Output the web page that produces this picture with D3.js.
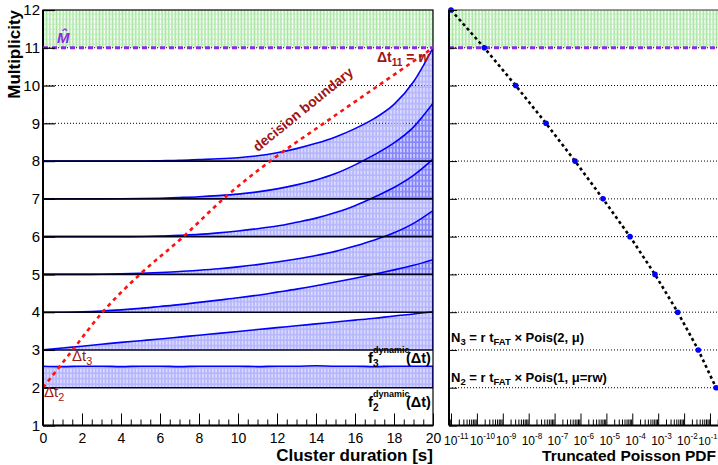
<!DOCTYPE html>
<html><head><meta charset="utf-8">
<script src="https://cdn.jsdelivr.net/npm/d3@7"></script>
<style>
html,body{margin:0;padding:0;background:#fff;}
svg text{font-family:"Liberation Sans",Arial,Helvetica,sans-serif;}
</style></head><body>
<svg id="chart" width="718" height="465"></svg>
<script>
// Cluster duration samples [s]
const durationT = [0,1,2,3,4,5,6,7,8,9,10,11,12,13,14,15,16,17,18,19,20];

// Dynamic fraction f_k(Δt), drawn as a band above multiplicity k
const f2 = [0.57,0.56,0.57,0.57,0.56,0.57,0.57,0.56,0.57,0.57,0.57,0.56,0.57,0.57,0.58,0.57,0.57,0.56,0.57,0.57,0.57];
const f3 = [0,0.05,0.1,0.15,0.2,0.245,0.29,0.34,0.39,0.44,0.49,0.54,0.59,0.64,0.69,0.74,0.79,0.84,0.9,0.95,1.01];
const f4 = [0,0,0.01,0.03,0.06,0.1,0.15,0.2,0.26,0.32,0.38,0.45,0.53,0.61,0.7,0.8,0.9,1.01,1.12,1.24,1.39];
const f5 = [0,0,0,0.005,0.015,0.03,0.05,0.075,0.11,0.15,0.2,0.26,0.33,0.41,0.5,0.61,0.75,0.91,1.1,1.35,1.69];
const f6 = [0,0,0,0,0,0.005,0.015,0.035,0.06,0.1,0.15,0.21,0.28,0.38,0.49,0.64,0.82,1.05,1.3,1.62,2.05];
const f7 = [0,0,0,0,0.002,0.008,0.018,0.035,0.055,0.085,0.125,0.185,0.265,0.37,0.5,0.67,0.9,1.17,1.48,1.9,2.53];
const f8 = [0,0,0,0,0,0,0.01,0.02,0.04,0.06,0.09,0.14,0.22,0.33,0.47,0.64,0.86,1.13,1.5,2.1,3.0];
const bandMult = [2,3,4,5,6,7,8];

// Decision boundary Δt_k for each multiplicity
const boundaryMult = [2,3,4,5,6,7,8,9,10,11];
const boundaryT = [0,1.52,3.05,4.97,7.2,9.25,11.65,14.4,17.2,20];

// Truncated Poisson PDF per multiplicity
const pdfMult = [12,11,10,9,8,7,6,5,4,3,2];
const pdfValue = [1.0e-11,1.93e-10,3.15e-9,4.66e-8,6.14e-7,7.4e-6,8.15e-5,7.5e-4,5.66e-3,3.53e-2,0.171];

// Tick values / labels
const multTicks = [1,2,3,4,5,6,7,8,9,10,11,12];
const durationTicks = [0,2,4,6,8,10,12,14,16,18,20];
const pdfDecades = [-11,-10,-9,-8,-7,-6,-5,-4,-3,-2,-1];
const mHat = 11;

const svg = d3.select("#chart");
const defs = svg.append("defs");

// hatched fills
const pb = defs.append("pattern").attr("id","hBlue").attr("patternUnits","userSpaceOnUse")
  .attr("width",3.3).attr("height",5.5);
pb.append("rect").attr("width",3.3).attr("height",5.5).attr("fill","rgba(40,40,250,0.34)");
pb.append("line").attr("x1",1.6).attr("x2",1.6).attr("y1",0).attr("y2",4)
  .attr("stroke","rgba(255,255,255,0.8)").attr("stroke-width",1);

const pg = defs.append("pattern").attr("id","hGreen").attr("patternUnits","userSpaceOnUse")
  .attr("width",3.3).attr("height",5);
pg.append("rect").attr("width",3.3).attr("height",5).attr("fill","#cdf2c9");
pg.append("line").attr("x1",0.5).attr("x2",0.5).attr("y1",0).attr("y2",5)
  .attr("stroke","#a9e3a3").attr("stroke-width",1);
pg.append("line").attr("x1",2).attr("x2",2).attr("y1",0).attr("y2",3.6)
  .attr("stroke","#ffffff").attr("stroke-width",1);

// scales
const x = d3.scaleLinear().domain([0,20]).range([43,433]);
const y = d3.scaleLinear().domain([1,12]).range([425.5,10]);
const xr = d3.scaleLog().domain([Math.pow(10,-11.077),Math.pow(10,-0.691)]).range([449,718]);

defs.append("clipPath").attr("id","clipL").append("rect")
  .attr("x",43).attr("y",10).attr("width",390).attr("height",415.5);

// ---------- left panel ----------
const L = svg.append("g");
L.append("rect").attr("x",x(0)).attr("y",y(12)).attr("width",x(20)-x(0)).attr("height",y(mHat)-y(12))
  .attr("fill","url(#hGreen)");

// dotted grid
L.selectAll("line.grid").data([9,10,11]).join("line")
  .attr("x1",x(0)).attr("x2",x(20)).attr("y1",d=>y(d)).attr("y2",d=>y(d))
  .attr("stroke","#000").attr("stroke-width",1).attr("stroke-dasharray","1,2");

const bandData = [f2,f3,f4,f5,f6,f7,f8];
const gBands = L.append("g").attr("clip-path","url(#clipL)");
bandMult.forEach((k,i) => {
  const f = bandData[i];
  const pts = durationT.map((t,j)=>[t,k+f[j]]);
  const area = d3.area().x(d=>x(d[0])).y0(y(k)).y1(d=>y(d[1])).curve(d3.curveMonotoneX);
  gBands.append("path").attr("d",area(pts)).attr("fill","url(#hBlue)");
});
// baselines
L.selectAll("line.base").data(bandMult).join("line")
  .attr("x1",x(0)).attr("x2",x(20)).attr("y1",d=>y(d)).attr("y2",d=>y(d))
  .attr("stroke","#000020").attr("stroke-width",1.6);
// band outlines
bandMult.forEach((k,i) => {
  const f = bandData[i];
  const pts = durationT.map((t,j)=>[t,k+f[j]]);
  const ln = d3.line().x(d=>x(d[0])).y(d=>y(d[1])).curve(d3.curveMonotoneX);
  gBands.append("path").attr("d",ln(pts)+`L${x(20)},${y(k)}`)
    .attr("fill","none").attr("stroke","#0000ff").attr("stroke-width",1.6);
});

// decision boundary
const bLine = d3.line().x(d=>x(d[0])).y(d=>y(d[1])).curve(d3.curveMonotoneX);
L.append("path").attr("d",bLine(boundaryT.map((t,i)=>[t,boundaryMult[i]])))
  .attr("fill","none").attr("stroke","#ff1010").attr("stroke-width",2.6).attr("stroke-dasharray","4,4");

// M-hat line
svg.append("line").attr("x1",x(0)).attr("x2",x(20)).attr("y1",y(mHat)).attr("y2",y(mHat))
  .attr("stroke","#8a2be2").attr("stroke-width",3).attr("stroke-dasharray","5,4");

// frame
L.append("rect").attr("x",x(0)).attr("y",y(12)).attr("width",x(20)-x(0)).attr("height",y(1)-y(12))
  .attr("fill","none").attr("stroke","#000").attr("stroke-width",1.2);
L.append("line").attr("x1",x(0)).attr("x2",x(0)).attr("y1",y(12)).attr("y2",y(1)).attr("stroke","#000").attr("stroke-width",2);
L.append("line").attr("x1",x(0)).attr("x2",x(20)).attr("y1",y(1)).attr("y2",y(1)).attr("stroke","#000").attr("stroke-width",2);

// axes
const axL = svg.append("g").attr("transform",`translate(${x(0)},0)`)
  .call(d3.axisLeft(y).tickValues(multTicks).tickSize(-12).tickPadding(3).tickFormat(d3.format("d")));
axL.select(".domain").remove();
axL.selectAll("text").attr("font-size",15).attr("font-family","Liberation Sans, Arial, sans-serif");
axL.selectAll("line").attr("stroke-width",1.2);

const axB = svg.append("g").attr("transform",`translate(0,${y(1)})`)
  .call(d3.axisBottom(x).tickValues(durationTicks).tickSize(-12).tickPadding(8).tickFormat(d3.format("d")));
axB.select(".domain").remove();
axB.selectAll("text").attr("font-size",14).attr("font-family","Liberation Sans, Arial, sans-serif");
const minorT = d3.range(0,20.01,0.5).filter(v=>v%2!==0);
svg.append("g").attr("transform",`translate(0,${y(1)})`)
  .call(d3.axisBottom(x).tickValues(minorT).tickSize(-6).tickFormat(""))
  .select(".domain").remove();

svg.append("text").attr("transform",`translate(20,${y(12)}) rotate(-90)`)
  .attr("text-anchor","end").attr("font-weight","bold").attr("font-size",17).text("Multiplicity");
svg.append("text").attr("x",x(20)).attr("y",461).attr("text-anchor","end")
  .attr("font-weight","bold").attr("font-size",17).text("Cluster duration [s]");

// annotations
const red = "#a01414";
function sub(sel, x0, y0, main, s, size, weight){
  const t = sel.append("text").attr("x",x0).attr("y",y0).attr("fill",red).attr("font-size",size)
    .attr("font-weight",weight||"normal");
  t.append("tspan").text(main);
  t.append("tspan").attr("font-size",size*0.72).attr("dy",4).text(s);
  return t;
}
sub(svg,44,397,"Δt","2",15);
sub(svg,72,361,"Δt","3",15);
const t11 = sub(svg,377,62,"Δt","11",14,"bold");
t11.append("tspan").attr("dy",-4).text(" = ");
t11.append("tspan").attr("font-style","italic").text("w");
svg.append("text").attr("transform","translate(306,113) rotate(-39)").attr("text-anchor","middle")
  .attr("fill",red).attr("font-size",14).attr("font-weight","bold").text("decision boundary");
svg.append("text").attr("x",57).attr("y",43).attr("fill","#8a2be2").attr("font-size",15)
  .attr("font-weight","bold").attr("font-style","italic").text("M\u0302");

function fLabel(x0,y0,k){
  const g = svg.append("g").attr("font-weight","bold");
  g.append("text").attr("x",x0).attr("y",y0).attr("font-size",15).text("f");
  g.append("text").attr("x",x0+5).attr("y",y0+4).attr("font-size",10).text(k);
  g.append("text").attr("x",x0+5).attr("y",y0-10).attr("font-size",9).text("dynamic");
  g.append("text").attr("x",x0+38).attr("y",y0).attr("font-size",14.5).text("(Δt)");
}
fLabel(368,363,"3");
fLabel(368,407,"2");

// ---------- right panel ----------
const R = svg.append("g");
R.append("rect").attr("x",449).attr("y",y(12)).attr("width",718-449).attr("height",y(mHat)-y(12))
  .attr("fill","url(#hGreen)");
R.selectAll("line.grid").data([2,3,4,5,6,7,8,9,10,11]).join("line")
  .attr("x1",449).attr("x2",718).attr("y1",d=>y(d)).attr("y2",d=>y(d))
  .attr("stroke","#000").attr("stroke-width",1).attr("stroke-dasharray","1,2");
R.append("line").attr("x1",449).attr("x2",718).attr("y1",y(mHat)).attr("y2",y(mHat))
  .attr("stroke","#8a2be2").attr("stroke-width",3).attr("stroke-dasharray","5,4");

const pdfPts = pdfMult.map((m,i)=>[pdfValue[i],m]);
R.append("path").attr("d",d3.line().x(d=>xr(d[0])).y(d=>y(d[1]))(pdfPts))
  .attr("fill","none").attr("stroke","#000").attr("stroke-width",2.6).attr("stroke-dasharray","3,3");
R.selectAll("circle").data(pdfPts).join("circle")
  .attr("cx",d=>xr(d[0])).attr("cy",d=>y(d[1])).attr("r",2.8).attr("fill","#0000ff");

// frame
R.append("line").attr("x1",449).attr("x2",718).attr("y1",y(12)).attr("y2",y(12)).attr("stroke","#333").attr("stroke-width",1.2);
R.append("line").attr("x1",449).attr("x2",449).attr("y1",y(12)).attr("y2",y(1)).attr("stroke","#000").attr("stroke-width",2);
R.append("line").attr("x1",449).attr("x2",718).attr("y1",y(1)).attr("y2",y(1)).attr("stroke","#000").attr("stroke-width",2);

const axRL = svg.append("g").attr("transform","translate(449,0)")
  .call(d3.axisLeft(y).tickValues(multTicks).tickSize(-8).tickFormat(""));
axRL.select(".domain").remove();

const majorVals = pdfDecades.map(e=>Math.pow(10,e));
const minorVals = [];
pdfDecades.concat([-12,0]).forEach(e=>{ for (let k=2;k<=9;k++){ const v=k*Math.pow(10,e); if(v>=xr.domain()[0]&&v<=xr.domain()[1]) minorVals.push(v);} });
svg.append("g").attr("transform",`translate(0,${y(1)})`)
  .call(d3.axisBottom(xr).tickValues(majorVals).tickSize(-12).tickFormat(""))
  .select(".domain").remove();
svg.append("g").attr("transform",`translate(0,${y(1)})`)
  .call(d3.axisBottom(xr).tickValues(minorVals).tickSize(-6).tickFormat(""))
  .select(".domain").remove();
// decade labels: the "10" sits centred on its tick, exponent to the right
const lab = svg.append("g");
pdfDecades.forEach((e,i)=>{
  const last = i === pdfDecades.length-1;
  const fs = last ? 11.2 : 12;
  const t = lab.append("text").attr("x",xr(Math.pow(10,e))-7).attr("y",445).attr("text-anchor","start").attr("font-size",fs);
  t.append("tspan").text("10");
  t.append("tspan").attr("font-size",fs*0.68).attr("dy",-6).text("-"+Math.abs(e));
  // keep the last label inside the canvas
  const bb = t.node().getBBox();
  if (bb.x + bb.width > 717.5) t.attr("x", +t.attr("x") - (bb.x + bb.width - 717.5));
});
svg.append("text").attr("x",716).attr("y",461).attr("text-anchor","end")
  .attr("font-weight","bold").attr("font-size",15.5).text("Truncated Poisson PDF");

function nLabel(y0, k, rest){
  const t = svg.append("text").attr("x",451).attr("y",y0).attr("font-weight","bold").attr("font-size",13);
  t.append("tspan").text("N");
  t.append("tspan").attr("font-size",9.5).attr("dy",3).text(k);
  t.append("tspan").attr("dy",-3).text(" = r t");
  t.append("tspan").attr("font-size",9.5).attr("dy",3).text("FAT");
  t.append("tspan").attr("dy",-3).text(" \u00d7 " + rest);
}
nLabel(342,"3","Pois(2, \u03bc)");
nLabel(382,"2","Pois(1, \u03bc=rw)");
</script>
</body></html>
